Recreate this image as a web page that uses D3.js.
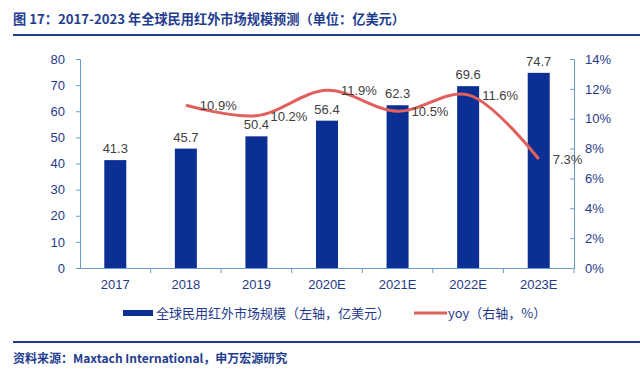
<!DOCTYPE html>
<html>
<head>
<meta charset="utf-8">
<script src="https://cdn.jsdelivr.net/npm/d3@7"></script>
<style>
  body { margin: 0; background: #fff; }
  svg { display: block; }
</style>
</head>
<body>
<div id="chart"></div>
<script>
const years = ['2017', '2018', '2019', '2020E', '2021E', '2022E', '2023E']
const marketSize = [41.3, 45.7, 50.4, 56.4, 62.3, 69.6, 74.7]
const yoy = [null, 10.9, 10.2, 11.9, 10.5, 11.6, 7.3]
const leftTicks = [0, 10, 20, 30, 40, 50, 60, 70, 80]
const rightTicks = [0, 2, 4, 6, 8, 10, 12, 14]

const width = 640
const height = 370
const plot = { left: 80, right: 574, top: 59, bottom: 268 }
const navy = '#0b2f94'
const red = '#e0605e'
const axisColor = '#6a9bd3'
const tickText = '#1f3a8a'
const labelFont = '"Liberation Sans", Arial, sans-serif'
const cjkFont = '"Noto Sans CJK SC", "Noto Sans", sans-serif'

const svg = d3.select('#chart').append('svg')
  .attr('width', width)
  .attr('height', height)

// title + rules
svg.append('text')
  .attr('x', 13)
  .attr('y', 24)
  .attr('font-family', cjkFont)
  .attr('font-weight', 'bold')
  .attr('font-size', 13.2)
  .attr('fill', '#1f3d8f')
  .text('图 17：2017-2023 年全球民用红外市场规模预测（单位：亿美元）')

svg.append('rect')
  .attr('x', 13).attr('y', 34).attr('width', width - 13).attr('height', 2)
  .attr('fill', '#1f3d8f')

svg.append('rect')
  .attr('x', 13).attr('y', 341).attr('width', width - 13).attr('height', 2)
  .attr('fill', '#1f3d8f')

svg.append('text')
  .attr('x', 13)
  .attr('y', 363)
  .attr('font-family', cjkFont)
  .attr('font-weight', 'bold')
  .attr('font-size', 12)
  .attr('fill', '#1f3d8f')
  .text('资料来源：Maxtach International，申万宏源研究')

const x = d3.scaleBand().domain(years).range([plot.left, plot.right])
const yLeft = d3.scaleLinear().domain([0, 80]).range([plot.bottom, plot.top])
const yRight = d3.scaleLinear().domain([0, 14]).range([plot.bottom, plot.top])

// bars
const barW = 22
svg.append('g').selectAll('rect')
  .data(years)
  .join('rect')
  .attr('x', d => x(d) + x.bandwidth() / 2 - barW / 2)
  .attr('y', (d, i) => yLeft(marketSize[i]))
  .attr('width', barW)
  .attr('height', (d, i) => yLeft(0) - yLeft(marketSize[i]))
  .attr('fill', navy)

svg.append('g').selectAll('text')
  .data(years)
  .join('text')
  .attr('x', d => x(d) + x.bandwidth() / 2)
  .attr('y', (d, i) => yLeft(marketSize[i]) - 7)
  .attr('text-anchor', 'middle')
  .attr('font-family', labelFont)
  .attr('font-size', 13)
  .attr('fill', '#404040')
  .text((d, i) => marketSize[i].toFixed(1))

// axes
const styleAxis = g => {
  g.select('.domain').attr('stroke', axisColor)
  g.selectAll('.tick line').attr('stroke', axisColor)
  g.selectAll('.tick text')
    .attr('fill', tickText)
    .attr('font-family', labelFont)
    .attr('font-size', 13)
}

svg.append('g')
  .attr('transform', 'translate(' + plot.left + ',0)')
  .call(d3.axisLeft(yLeft).tickValues(leftTicks).tickSize(4).tickSizeOuter(4).tickPadding(11))
  .call(styleAxis)

svg.append('g')
  .attr('transform', 'translate(' + plot.right + ',0)')
  .call(d3.axisRight(yRight).tickValues(rightTicks).tickSize(-4).tickSizeOuter(-4).tickPadding(11)
    .tickFormat(d => d + '%'))
  .call(styleAxis)

const xAxis = svg.append('g')
  .attr('transform', 'translate(0,' + plot.bottom + ')')
  .call(d3.axisBottom(x).tickSize(0).tickPadding(12))
  .call(styleAxis)
xAxis.selectAll('.band-tick')
  .data(years.slice(1).concat(['end']))
  .join('line')
  .attr('x1', (d, i) => plot.left + (i + 1) * x.step())
  .attr('x2', (d, i) => plot.left + (i + 1) * x.step())
  .attr('y1', 0).attr('y2', 5)
  .attr('stroke', axisColor)

// yoy line
const pts = years.map((d, i) => ({ year: d, v: yoy[i] })).filter(p => p.v !== null)
const line = d3.line()
  .x(p => x(p.year) + x.bandwidth() / 2)
  .y(p => yRight(p.v))
  .curve(d3.curveCatmullRom.alpha(0.5))

svg.append('path')
  .datum(pts)
  .attr('d', line)
  .attr('fill', 'none')
  .attr('stroke', red)
  .attr('stroke-width', 3)

svg.append('g').selectAll('text')
  .data(pts)
  .join('text')
  .attr('x', p => x(p.year) + x.bandwidth() / 2 + 14)
  .attr('y', p => yRight(p.v) + 5)
  .attr('font-family', labelFont)
  .attr('font-size', 13)
  .attr('fill', '#404040')
  .text(p => p.v.toFixed(1) + '%')

// legend
const legend = svg.append('g').attr('font-family', cjkFont).attr('font-size', 13).attr('fill', '#1f3a8a')
legend.append('rect')
  .attr('x', 123).attr('y', 310).attr('width', 30).attr('height', 6)
  .attr('fill', navy)
legend.append('text')
  .attr('x', 156).attr('y', 318)
  .text('全球民用红外市场规模（左轴，亿美元）')
legend.append('line')
  .attr('x1', 414).attr('x2', 447).attr('y1', 313).attr('y2', 313)
  .attr('stroke', red).attr('stroke-width', 3)
legend.append('text')
  .attr('x', 448).attr('y', 318)
  .text('yoy（右轴，%）')
</script>
</body>
</html>
